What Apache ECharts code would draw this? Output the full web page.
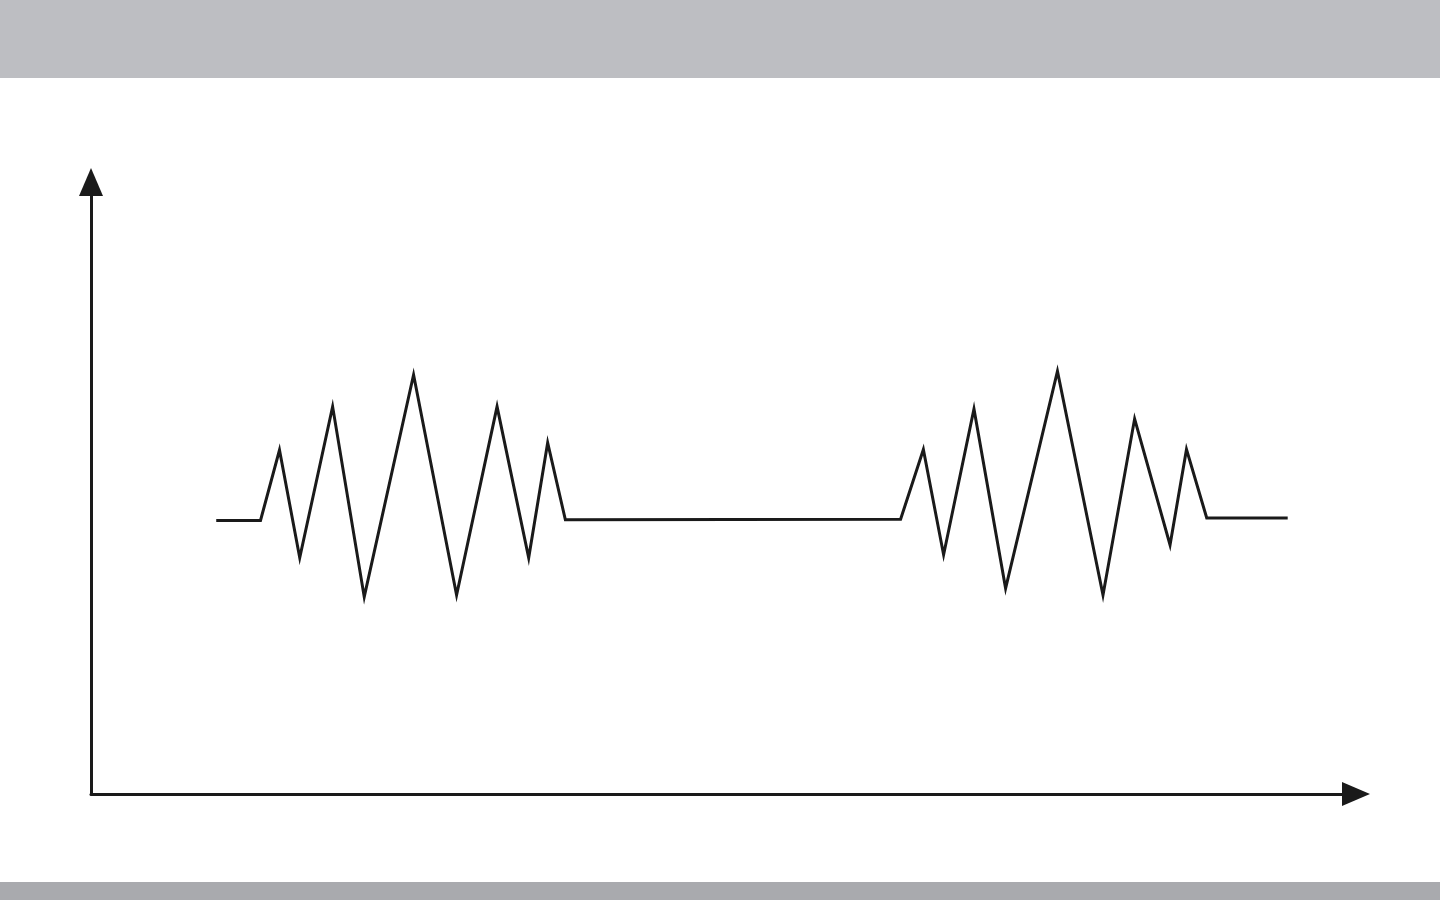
<!DOCTYPE html>
<html>
<head>
<meta charset="utf-8">
<script src="https://cdn.jsdelivr.net/npm/echarts@6/dist/echarts.min.js"></script>
<style>
html,body{margin:0;padding:0;background:#fff;}
#chart{width:1440px;height:900px;}
</style>
</head>
<body>
<div id="chart"></div>
<script>
const xValues = [9.9, 13.4, 14.9, 16.5, 19.1, 21.6, 25.5, 28.9, 32.1, 34.6, 36.1, 37.5,
                 64.0, 65.8, 67.4, 69.8, 72.3, 76.4, 80.0, 82.5, 85.3, 86.6, 88.2, 94.6];
const yValues = [44.7, 44.7, 56.2, 38.6, 63.3, 32.2, 68.5, 32.5, 63.3, 38.6, 57.4, 44.8,
                 44.9, 56.3, 39.1, 62.9, 33.6, 69.1, 32.5, 61.3, 40.7, 56.3, 45.1, 45.1];

const points = xValues.map((x, i) => [x, yValues[i]]);
const chart = echarts.init(document.getElementById('chart'));
const axisCommon = {
  type: 'value', min: 0, max: 100,
  axisLine: { show: true, symbol: ['none', 'triangle'], symbolSize: [24, 28],
              lineStyle: { color: '#1a1a1a', width: 3 } },
  axisTick: { show: false }, axisLabel: { show: false }, splitLine: { show: false }
};
chart.setOption({
  backgroundColor: '#ffffff',
  animation: false,
  grid: { left: 91, right: 84, top: 182, bottom: 106 },
  xAxis: Object.assign({}, axisCommon),
  yAxis: Object.assign({}, axisCommon),
  graphic: [
    { type: 'rect', shape: { x: 0, y: 0, width: 1440, height: 78 }, style: { fill: '#bdbec2' }, silent: true },
    { type: 'rect', shape: { x: 0, y: 882, width: 1440, height: 18 }, style: { fill: '#a9aaae' }, silent: true }
  ],
  series: [{
    type: 'line', data: points, showSymbol: false, symbol: 'none',
    lineStyle: { color: '#1a1a1a', width: 3, join: 'miter' }
  }]
});
</script>
</body>
</html>
